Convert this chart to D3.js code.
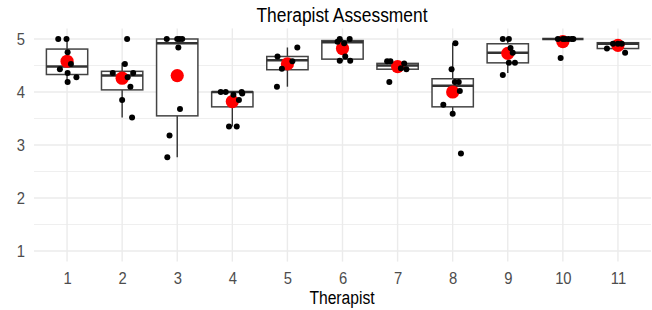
<!DOCTYPE html>
<html>
<head>
<meta charset="utf-8">
<script src="https://cdn.jsdelivr.net/npm/d3@7"></script>
<style>
  body { margin: 0; background: #fff; }
  text { font-family: "Liberation Sans", Arial, sans-serif; }
</style>
</head>
<body>
<div id="chart"></div>
<script>
// therapist ids
const therapists = ["1","2","3","4","5","6","7","8","9","10","11"];

// box stats: [lower whisker, q1, median, q3, upper whisker]
const boxStats = [
  [4.18, 4.33, 4.48, 4.81, 5.00],
  [3.52, 4.04, 4.31, 4.39, 4.55],
  [2.77, 3.55, 4.92, 5.00, 5.00],
  [3.35, 3.72, 4.00, 4.00, 4.00],
  [4.10, 4.42, 4.60, 4.67, 4.84],
  [4.58, 4.62, 4.94, 4.97, 5.00],
  [4.42, 4.43, 4.50, 4.54, 4.58],
  [3.59, 3.72, 4.12, 4.25, 4.92],
  [4.36, 4.55, 4.74, 4.91, 5.00],
  [5.00, 5.00, 5.00, 5.00, 5.00],
  [4.82, 4.82, 4.91, 4.93, 4.93]
];

// mean score per therapist (red dots)
const means = [4.58, 4.26, 4.31, 3.82, 4.53, 4.82, 4.48, 4.00, 4.73, 4.95, 4.88];

// individual ratings (jittered in the plot)
const ratings = [
  [5, 5, 4.75, 4.53, 4.43, 4.36, 4.28, 4.19],
  [5, 4.53, 4.36, 4.36, 4.28, 4.1, 3.85, 3.52],
  [5, 5, 5, 5, 4.84, 3.68, 3.18, 2.77],
  [4, 4, 4, 3.97, 3.85, 3.35, 3.35, 3.95],
  [4.67, 4.84, 4.58, 4.44, 4.1],
  [5, 5, 4.92, 4.59, 4.59, 4.67, 4.95],
  [4.58, 4.58, 4.54, 4.45, 4.43, 4.19],
  [4.92, 4.43, 4.19, 4.19, 4.02, 3.76, 3.59, 2.84],
  [5, 5, 4.83, 4.74, 4.55, 4.55, 4.32],
  [5, 5, 5, 5, 4.64, 5, 5],
  [4.91, 4.91, 4.91, 4.82, 4.74]
];

// horizontal jitter of each rating, in category widths
const jitter = [
  [-0.16, -0.01, 0.01, 0.07, -0.13, 0.01, 0.17, 0.01],
  [0.09, 0.05, -0.17, 0.2, 0.1, 0.15, 0, 0.18],
  [-0.19, 0, 0.04, 0.09, 0.02, 0.05, -0.14, -0.18],
  [-0.21, -0.12, 0.17, 0.18, 0.12, -0.06, 0.08, 0.02],
  [-0.18, 0.18, 0.09, -0.1, -0.19],
  [-0.05, 0.13, 0.03, -0.05, 0.14, 0.05, -0.09],
  [-0.19, -0.13, 0.12, 0.06, 0.16, -0.15],
  [0.05, -0.02, 0.04, 0.11, 0.13, -0.17, 0, 0.15],
  [-0.09, 0.02, 0.05, 0.09, 0.02, 0.13, -0.09],
  [0, 0.1, 0.16, 0.19, -0.04, -0.09, 0.04],
  [-0.09, 0, 0.07, -0.2, 0.13]
];

const yTicks = [1, 2, 3, 4, 5];
const yMinor = [1.5, 2.5, 3.5, 4.5];

const width = 652, height = 310;
const panel = { left: 34, right: 651, top: 28.4, bottom: 261.6 };
const squeeze = 0.87; // text in the reference is horizontally compressed

const svg = d3.select("#chart").append("svg")
  .attr("width", width)
  .attr("height", height);

const x = d3.scalePoint()
  .domain(therapists)
  .range([panel.left, panel.right])
  .padding(0.6);
const step = x.step();

const y = d3.scaleLinear()
  .domain([0.8, 5.2])
  .range([panel.bottom, panel.top]);

// grid
const grid = svg.append("g").attr("stroke", "#EBEBEB");
grid.selectAll(".minor").data(yMinor).enter().append("line")
  .attr("x1", panel.left).attr("x2", panel.right)
  .attr("y1", d => y(d)).attr("y2", d => y(d))
  .attr("stroke-width", 0.8);
grid.selectAll(".major").data(yTicks).enter().append("line")
  .attr("x1", panel.left).attr("x2", panel.right)
  .attr("y1", d => y(d)).attr("y2", d => y(d))
  .attr("stroke-width", 1.4);
grid.selectAll(".vert").data(therapists).enter().append("line")
  .attr("x1", d => x(d)).attr("x2", d => x(d))
  .attr("y1", panel.top).attr("y2", panel.bottom)
  .attr("stroke-width", 1.4);

// axes (labels only)
const yAxis = svg.append("g")
  .attr("transform", `translate(${panel.left},0)`)
  .call(d3.axisLeft(y).tickValues(yTicks).tickSize(0).tickFormat(d3.format("d")));
yAxis.select(".domain").remove();
yAxis.selectAll("text")
  .attr("x", -9 / squeeze)
  .attr("dy", "0.35em")
  .attr("transform", `scale(${squeeze},1)`)
  .style("font-size", "17px")
  .attr("fill", "#4D4D4D");

const xAxis = svg.append("g")
  .attr("transform", `translate(0,${panel.bottom})`)
  .call(d3.axisBottom(x).tickSize(0));
xAxis.select(".domain").remove();
xAxis.selectAll(".tick text")
  .attr("y", 22.7)
  .attr("dy", 0)
  .attr("transform", `scale(${squeeze},1)`)
  .style("font-size", "17px")
  .attr("fill", "#4D4D4D");

// boxplots
const boxW = step * 0.75;
const boxes = svg.selectAll(".box")
  .data(therapists.map((t, i) => ({ t, s: boxStats[i] })))
  .enter().append("g")
  .attr("class", "box");

boxes.append("line")
  .attr("x1", d => x(d.t)).attr("x2", d => x(d.t))
  .attr("y1", d => y(d.s[3])).attr("y2", d => y(d.s[4]))
  .attr("stroke", "#333").attr("stroke-width", 1.4);
boxes.append("line")
  .attr("x1", d => x(d.t)).attr("x2", d => x(d.t))
  .attr("y1", d => y(d.s[0])).attr("y2", d => y(d.s[1]))
  .attr("stroke", "#333").attr("stroke-width", 1.4);
boxes.append("rect")
  .attr("x", d => x(d.t) - boxW / 2)
  .attr("width", boxW)
  .attr("y", d => y(d.s[3]))
  .attr("height", d => y(d.s[1]) - y(d.s[3]))
  .attr("fill", "#fff")
  .attr("stroke", "#444")
  .attr("stroke-width", 1.5);
boxes.append("line")
  .attr("x1", d => x(d.t) - boxW / 2).attr("x2", d => x(d.t) + boxW / 2)
  .attr("y1", d => y(d.s[2])).attr("y2", d => y(d.s[2]))
  .attr("stroke", "#333").attr("stroke-width", 2.5);

// means
svg.selectAll(".mean")
  .data(therapists.map((t, i) => ({ t, m: means[i] })))
  .enter().append("circle")
  .attr("class", "mean")
  .attr("cx", d => x(d.t))
  .attr("cy", d => y(d.m))
  .attr("r", 6.6)
  .attr("fill", "red");

// jittered ratings
const pts = [];
therapists.forEach((t, i) => {
  ratings[i].forEach((v, j) => pts.push({ t, v, j: jitter[i][j] }));
});
svg.selectAll(".pt")
  .data(pts)
  .enter().append("circle")
  .attr("class", "pt")
  .attr("cx", d => x(d.t) + d.j * step)
  .attr("cy", d => y(d.v))
  .attr("r", 3)
  .attr("fill", "#000");

// titles
svg.append("text")
  .attr("transform", `translate(342,22) scale(${squeeze},1)`)
  .attr("text-anchor", "middle")
  .style("font-size", "20px")
  .attr("fill", "#000")
  .text("Therapist Assessment");

svg.append("text")
  .attr("transform", `translate(342,304) scale(${squeeze},1)`)
  .attr("text-anchor", "middle")
  .style("font-size", "18px")
  .attr("fill", "#000")
  .text("Therapist");
</script>
</body>
</html>
